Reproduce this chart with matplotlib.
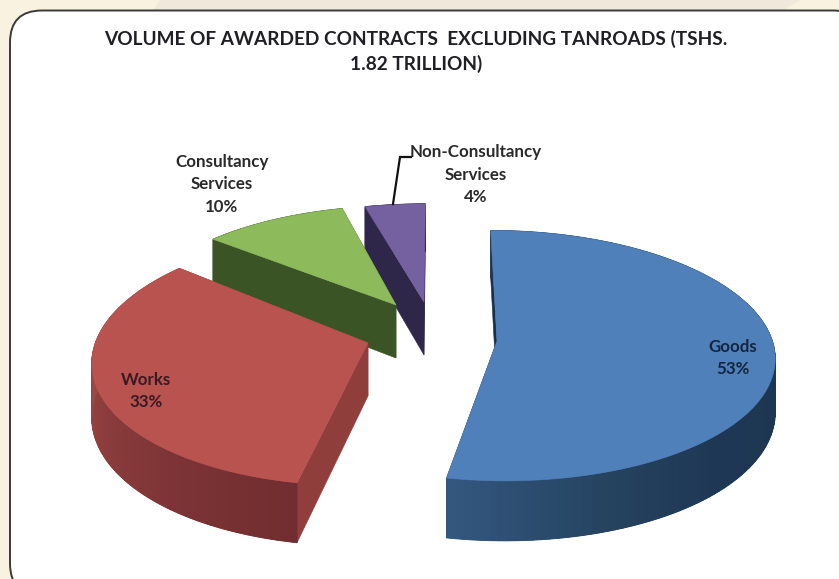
import numpy as np
import matplotlib
matplotlib.use("Agg")
import matplotlib.pyplot as plt
from matplotlib.colors import to_rgb
from matplotlib.patches import FancyBboxPatch, Polygon

# Award shares in percent, clockwise from twelve o'clock
categories = ["Goods", "Works", "Consultancy\nServices", "Non-Consultancy\nServices"]
shares = [53, 33, 10, 4]
title = "VOLUME OF AWARDED CONTRACTS  EXCLUDING TANROADS (TSHS.\n1.82 TRILLION)"

# Look of each slice: apex position, size factors and colours
apexes = [(497, 341), (368, 343), (396, 305), (424, 302)]
sizeFactors = [(1.02, 0.98), (1.01, 1.0), (0.96, 0.88), (1.0, 0.87)]
vanishXs = [437, 470, 437, 437]
topColors = ["#5080BA", "#B85350", "#8DBB5B", "#7560A0"]
faceColors = ["#173049", "#8F3E3C", "#3B5425", "#2F2749"]
sideStops = [
    [(190, "#33577F"), (160, "#25425F"), (135, "#1E3754"), (90, "#1D3652")],
    [(190, "#702D2F"), (215, "#7C3335"), (250, "#8F3F3E"), (280, "#A44C49")],
    [(310, "#3B5425"), (346, "#3B5425")],
    [(346, "#2F2749"), (360, "#2F2749")],
]
labelSpots = [(733, 358), (146, 391), (222, 184), (476, 175)]
drawOrder = [3, 2, 0, 1]

RX = 270
RY = 126
K = 0.117      # perspective strength
DEPTH = 53


def rimPoint(i, theta):
    # Point on the disc edge, theta in degrees clockwise from the top
    apex = apexes[i]
    factors = sizeFactors[i]
    u = np.sin(np.radians(theta))
    v = np.cos(np.radians(theta))
    s = 1 / (1 + K * v)
    x = apex[0] + RX * factors[0] * u * s + (apex[0] - vanishXs[i]) * (s - 1)
    y = apex[1] - RY * factors[1] * v * s
    return x, y, DEPTH * s


def sideColor(stops, theta):
    angles = [a for a, c in stops]
    rgb = np.array([to_rgb(c) for a, c in stops])
    order = np.argsort(angles)
    return [np.interp(theta, np.array(angles)[order], rgb[order, i]) for i in range(3)]


def drawSlice(ax, i, start, stop):
    apex = apexes[i]
    angles = np.linspace(start, stop, 121)
    rim = [rimPoint(i, t) for t in angles]

    # radial walls go first so the rim and the top can cover them
    for x, y, d in [rim[0], rim[-1]]:
        wall = [(apex[0], apex[1]), (x, y), (x, y + d), (apex[0], apex[1] + DEPTH)]
        ax.add_patch(Polygon(wall, closed=True, fc=faceColors[i], ec=faceColors[i], lw=0.4))

    # solid backing under the outer wall keeps the quad seams from showing white
    midColor = sideColor(sideStops[i], (start + stop) / 2)
    backing = [(x, y) for x, y, d in rim] + [(x, y + d) for x, y, d in reversed(rim)]
    ax.add_patch(Polygon(backing, closed=True, fc=midColor, ec="none"))

    # outer wall as thin quads, the shading changes along the angle
    for j in range(len(rim) - 1):
        x0, y0, d0 = rim[j]
        x1, y1, d1 = rim[j + 1]
        col = sideColor(sideStops[i], (angles[j] + angles[j + 1]) / 2)
        quad = [(x0, y0), (x1, y1), (x1, y1 + d1), (x0, y0 + d0)]
        ax.add_patch(Polygon(quad, closed=True, fc=col, ec=col, lw=0.6))

    top = [apex] + [(x, y) for x, y, d in rim]
    ax.add_patch(Polygon(top, closed=True, fc=topColors[i], ec=topColors[i], lw=0.4))


fig = plt.figure(figsize=(8.39, 5.79), dpi=100)
ax = fig.add_axes([0, 0, 1, 1])
ax.set_xlim(0, 839)
ax.set_ylim(579, 0)
ax.axis("off")
fig.patch.set_facecolor("#F9F2E1")

# faint band along the top of the page
ax.add_patch(Polygon([(160, 0), (800, 0), (780, 12), (152, 12)], closed=True, fc="#EFE8DB", ec="none"))

# white rounded panel, it runs past the right and bottom edges
ax.add_patch(FancyBboxPatch((10, 10.5), 855, 585, boxstyle="round,pad=0,rounding_size=32",
                            fc="white", ec="#3A3A3A", lw=1.4))

edges = np.concatenate([[0], np.cumsum(shares)]) * 3.6
for i in drawOrder:
    drawSlice(ax, i, edges[i], edges[i + 1])

plt.rcParams["font.family"] = ["Lato", "DejaVu Sans"]

ax.text(416, 51.5, title, ha="center", va="center", fontsize=13.65, fontweight="bold",
        color="#1F1F24", linespacing=1.42)

for i in range(len(categories)):
    textColor = "#2A2A2A"
    if i == 0:
        textColor = "#14263F"
    elif i == 1:
        textColor = "#3A1A22"
    ax.text(labelSpots[i][0], labelSpots[i][1], categories[i] + "\n" + str(shares[i]) + "%",
            ha="center", va="center", fontsize=12.2, fontweight="bold", color=textColor,
            linespacing=1.5)

# leader line for the smallest slice
ax.plot([393, 400, 411], [204, 157, 157], color="#111111", lw=1.6, solid_joinstyle="miter")

fig.savefig("out.png", dpi=100)
